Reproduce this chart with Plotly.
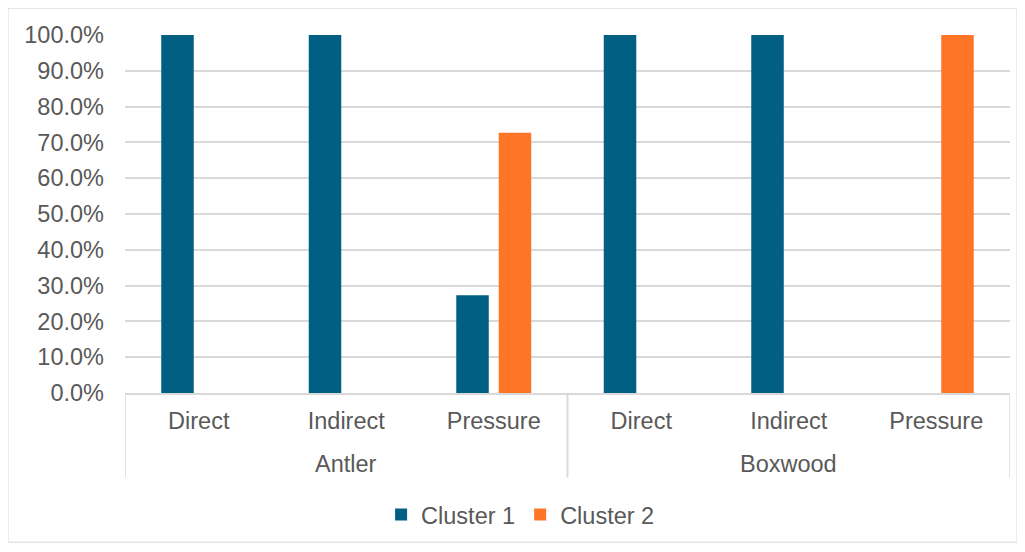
import plotly.graph_objects as go

# data
materials = ["Antler", "Antler", "Antler", "Boxwood", "Boxwood", "Boxwood"]
techniques = ["Direct", "Indirect", "Pressure", "Direct", "Indirect", "Pressure"]
cluster1 = [1.0, 1.0, 0.273, 1.0, 1.0, 0.0]
cluster2 = [0.0, 0.0, 0.727, 0.0, 0.0, 1.0]
y_ticks = [0, 0.1, 0.2, 0.3, 0.4, 0.5, 0.6, 0.7, 0.8, 0.9, 1.0]

colors = {"blue": "#005F83", "orange": "#FF7528", "text": "#595959", "grid": "#D9D9D9"}
font = "Liberation Sans, Arial, sans-serif"

# unique category keys, inner label shown as tick text
keys = [m + "|" + t for m, t in zip(materials, techniques)]

fig = go.Figure()
fig.add_trace(go.Bar(x=keys, y=cluster1, name="Cluster 1",
                     marker=dict(color=colors["blue"], line=dict(width=0))))
fig.add_trace(go.Bar(x=keys, y=cluster2, name="Cluster 2",
                     marker=dict(color=colors["orange"], line=dict(width=0))))

# outer group labels and dividers
groups = []
for i, m in enumerate(materials):
    if not groups or groups[-1][0] != m:
        groups.append([m, i, i])
    else:
        groups[-1][2] = i

# page body has an 8px margin, so the figure is drawn 8px in from the window edge
annotations = []
shapes = [dict(type="rect", xref="paper", yref="paper",
               x0=(8 - 125) / 885, x1=(1017 - 125) / 885,
               y0=(395 - 545) / 360, y1=(395 - 8) / 360,
               line=dict(color=colors["grid"], width=1), layer="below")]
for name, start, end in groups:
    annotations.append(dict(text=name, x=(start + end) / 2, xref="x", y=-0.197, yref="paper",
                            showarrow=False, yanchor="middle",
                            font=dict(size=23.5, color=colors["text"], family=font)))
    for edge in (start - 0.5, end + 0.5):
        shapes.append(dict(type="line", xref="x", yref="paper", x0=edge, x1=edge,
                           y0=0, y1=-0.236, line=dict(color=colors["grid"], width=1.5)))

fig.update_layout(
    width=1009, height=536,
    margin=dict(l=117, r=7, t=27, b=149),
    paper_bgcolor="white", plot_bgcolor="white",
    barmode="group", bargap=0.424, bargroupgap=0.235,
    font=dict(family=font, size=23.5, color=colors["text"]),
    legend=dict(orientation="h", x=0.447, xanchor="center", y=-0.34, yanchor="middle",
                font=dict(size=23.5), itemwidth=30, traceorder="normal"),
    yaxis=dict(range=[0, 1], tickvals=y_ticks, tickformat=".1%", showgrid=True,
               gridcolor=colors["grid"], gridwidth=1.5, zeroline=False, showline=False,
               ticks="", ticklabelstandoff=20, automargin=False),
    xaxis=dict(type="category", tickvals=keys, ticktext=techniques,
               range=[-0.5, len(keys) - 0.5],
               showline=True, linecolor=colors["grid"], linewidth=1.5,
               ticks="", ticklabelstandoff=6, automargin=False, showgrid=False),
    annotations=annotations,
    shapes=shapes,
)

fig.write_html("out.html")
